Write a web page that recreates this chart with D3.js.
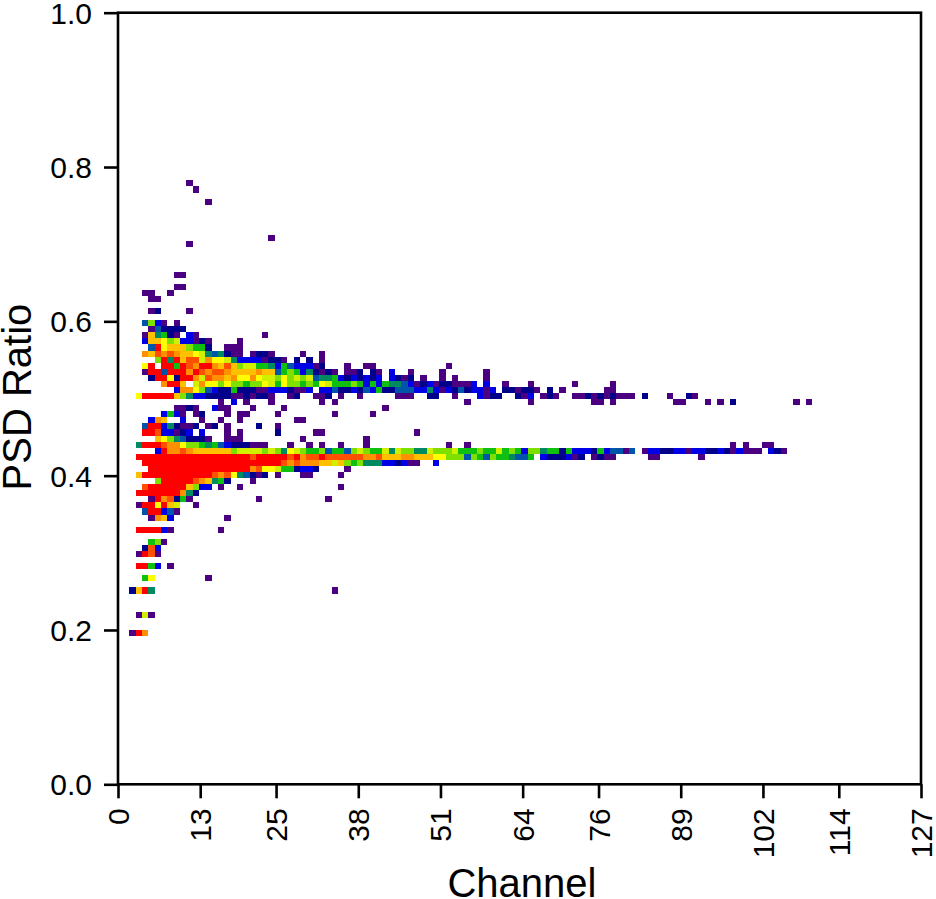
<!DOCTYPE html>
<html>
<head>
<meta charset="utf-8">
<script src="https://cdn.jsdelivr.net/npm/d3@7"></script>
<style>
body { margin: 0; background: #fff; }
text { font-family: "Liberation Sans", Arial, sans-serif; fill: #000; }
</style>
</head>
<body>
<script>
var w = 936;
var h = 899;

var ratioTicks = [0, 0.2, 0.4, 0.6, 0.8, 1];
var channelTicks = [0, 13, 25, 38, 51, 64, 76, 89, 102, 114, 127];

// ratio bin (0-127) of each row that has counts
var ratioBins = [98, 97, 95, 89, 88, 83, 81, 80, 79, 77, 75, 74, 73, 72, 71, 70, 69, 68, 67, 66,
    65, 64, 63, 62, 61, 60, 59, 58, 57, 56, 55, 54, 53, 52, 51, 50, 49, 48, 47, 46,
    45, 44, 43, 41, 39, 38, 37, 35, 33, 31, 27, 24];

// for each row: [first channel, density levels in hex (1 lowest, d highest)]
var binRuns = [
    [[11, "1"]],
    [[12, "1"]],
    [[14, "1"]],
    [[24, "1"]],
    [[11, "1"]],
    [[9, "11"]],
    [[9, "11"]],
    [[4, "11"], [8, "1"]],
    [[5, "11"]],
    [[5, "12"], [11, "1"]],
    [[4, "4731"], [9, "1"]],
    [[5, "142222"]],
    [[4, "1a5621"], [11, "31"], [23, "1"]],
    [[4, "3aa97833121"], [19, "1"]],
    [[5, "4d9aaa7662"], [17, "111"]],
    [[4, "bacbcbaa98545211"], [21, "1221"], [29, "1"], [32, "1"]],
    [[6, "7d5dacc8b998533331221"], [28, "2"], [30, "2"], [32, "1"]],
    [[4, "9d"], [7, "dd6dcbddbaca78866536433312"], [36, "1"], [39, "11"], [52, "1"]],
    [[4, "1dd4dddbdcbccbaaaabaa4676352121"], [36, "112"], [40, "21"], [43, "3"], [46, "1"], [51, "1"], [58, "1"]],
    [[5, "2dd92ddb8cbbab99b98879787845563232323"], [43, "3212"], [48, "1"], [51, "1"], [53, "1"], [58, "1"]],
    [[7, "bdda"], [12, "8b9979776779869776769866676363655431231221113"], [58, "3"], [61, "1"], [65, "1"], [72, "1"], [78, "1"]],
    [[9, "3bb9743226222113332113"], [32, "3342232436224443353132423313"], [61, "221221"], [68, "2"], [70, "1"], [77, "11"]],
    [[3, "9ddddda753322221121221"], [27, "12"], [31, "112"], [35, "1"], [38, "1"], [44, "111"], [49, "22"], [53, "1"], [57, "3122"], [63, "213"], [67, "121"], [72, "1121212111"], [83, "2"], [87, "1"], [90, "21"]],
    [[16, "1"], [18, "3"], [20, "1"], [24, "1"], [32, "1"], [34, "1"], [55, "1"], [65, "1"], [75, "11"], [78, "1"], [88, "11"], [93, "1"], [95, "1"], [97, "2"], [107, "1"], [109, "1"]],
    [[9, "1121"], [15, "311"], [21, "1"], [26, "1"], [42, "1"]],
    [[7, "3631"], [12, "12"], [17, "1"], [19, "11"], [25, "1"], [34, "1"], [40, "1"]],
    [[5, "3ba"], [10, "3"], [13, "1"], [16, "1"], [19, "1"], [28, "11"]],
    [[4, "4dd352112"], [14, "12"], [17, "1"], [22, "2"], [25, "1"]],
    [[4, "ddc33123"], [13, "3"], [17, "1"], [19, "1"], [25, "2"], [31, "11"], [47, "1"]],
    [[6, "a97542221"], [17, "111"], [29, "1"], [39, "1"]],
    [[3, "5dddcbb97765643222111"], [27, "1"], [30, "1"], [32, "1"], [35, "1"], [39, "1"], [52, "1"], [55, "1"], [97, "1"], [99, "1"], [102, "11"]],
    [[6, "3dbbcbaaaaaa7888878759876674664787668587755877786667668676377566263332634414"], [83, "1332233133223213111"], [103, "321"]],
    [[3, "ddddddddddddddddddcdddddcdbccdccccccbbcaaabbaaa9977747647665446"], [67, "3222312"], [75, "1211"], [84, "11"], [92, "1"]],
    [[4, "ddddddddddddddddddddddcbcbbbaa8a767555332311"], [50, "3"]],
    [[5, "ddddddddddddddddbc998662332"], [36, "1"]],
    [[3, "adddddddddddcbc954212"], [25, "1"], [29, "11"], [35, "1"]],
    [[6, "7dddddcba562"], [21, "1"]],
    [[4, "cdddddda733"], [16, "1"], [19, "1"], [35, "1"]],
    [[3, "dddddddb52"]],
    [[5, "1dbc261"], [22, "1"], [33, "1"]],
    [[3, "1dd9da8"], [12, "1"]],
    [[4, "4dd341"]],
    [[5, "1ba3"], [17, "1"]],
    [[3, "dddd31"], [16, "1"]],
    [[5, "671"]],
    [[4, "2c3"]],
    [[3, "1dc1"]],
    [[3, "dd63"], [8, "1"]],
    [[4, "69"], [14, "1"]],
    [[2, "2ad5"], [34, "1"]],
    [[3, "181"]],
    [[2, "1db"]]
];

var levelColors = ["#4b0082", "#00008b", "#0000e6", "#0055aa", "#008a60", "#10c010", "#7fe000",
    "#d0f000", "#ffff00", "#ffc000", "#ff9000", "#ff5000", "#ff0000"];

var xScale = d3.scaleLinear().domain([0, 127]).range([118, 921]);
var yScale = d3.scaleLinear().domain([0, 1]).range([784.3, 12.7]);
var colorScale = d3.scaleOrdinal().domain(d3.range(1, 14)).range(levelColors);

// unpack the runs into single cells
var cells = [];
ratioBins.forEach(function(bin, i) {
    binRuns[i].forEach(function(run) {
        run[1].split('').forEach(function(ch, j) {
            cells.push({ channel: run[0] + j, bin: bin, level: parseInt(ch, 16) });
        });
    });
});

var svg = d3.select('body').append('svg')
    .attr('width', w)
    .attr('height', h)
    .style('display', 'block');

svg.append('g')
    .selectAll('rect')
    .data(cells)
    .enter()
    .append('rect')
    .attr('x', function(d) { return xScale(d.channel - 0.2); })
    .attr('y', function(d) { return yScale((d.bin + 1.4) / 127); })
    .attr('width', xScale(1) - xScale(0))
    .attr('height', yScale(0) - yScale(1 / 127))
    .attr('fill', function(d) { return colorScale(d.level); })
    .attr('shape-rendering', 'crispEdges');

// frame
svg.append('rect')
    .attr('x', xScale(0))
    .attr('y', yScale(1))
    .attr('width', xScale(127) - xScale(0))
    .attr('height', yScale(0) - yScale(1))
    .attr('fill', 'none')
    .attr('stroke', '#000')
    .attr('stroke-width', 2.6);

var xAxis = d3.axisBottom(xScale).tickValues(channelTicks).tickSizeInner(14).tickSizeOuter(0);
var yAxis = d3.axisLeft(yScale).tickValues(ratioTicks).tickSizeInner(14).tickSizeOuter(0)
    .tickFormat(d3.format('.1f'));

var gx = svg.append('g')
    .attr('transform', 'translate(0,' + yScale(0) + ')')
    .call(xAxis);
gx.select('.domain').remove();
gx.selectAll('line').attr('stroke', '#000').attr('stroke-width', 2.6);
gx.selectAll('text')
    .attr('font-size', 30)
    .attr('font-family', '"Liberation Sans", Arial, sans-serif')
    .attr('transform', 'rotate(-90)')
    .attr('x', -24)
    .attr('y', 0)
    .attr('dy', '.35em')
    .style('text-anchor', 'end');

var gy = svg.append('g')
    .attr('transform', 'translate(' + xScale(0) + ',0)')
    .call(yAxis);
gy.select('.domain').remove();
gy.selectAll('line').attr('stroke', '#000').attr('stroke-width', 2.6);
gy.selectAll('text')
    .attr('font-size', 30)
    .attr('font-family', '"Liberation Sans", Arial, sans-serif')
    .attr('x', -26)
    .attr('dy', '.35em');

svg.append('text')
    .attr('x', 522)
    .attr('y', 897)
    .attr('font-size', 40)
    .style('text-anchor', 'middle')
    .text('Channel');

svg.append('text')
    .attr('transform', 'translate(31,397) rotate(-90)')
    .attr('font-size', 40)
    .style('text-anchor', 'middle')
    .text('PSD Ratio');
</script>
</body>
</html>
